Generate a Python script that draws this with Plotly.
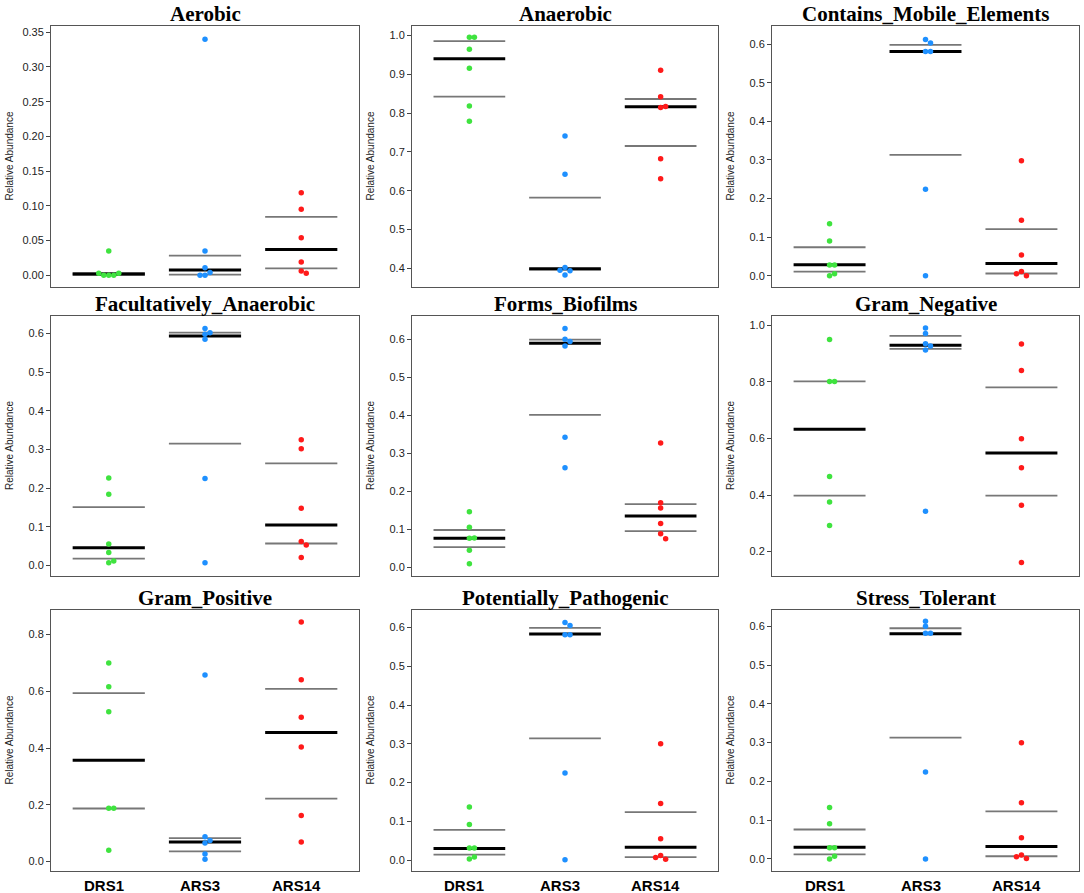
import plotly.graph_objects as go

groups = ["DRS1", "ARS3", "ARS14"]
colors = ["#3fe33f", "#1e90ff", "#ff1a1a"]

titles = ["Aerobic", "Anaerobic", "Contains_Mobile_Elements",
          "Facultatively_Anaerobic", "Forms_Biofilms", "Gram_Negative",
          "Gram_Positive", "Potentially_Pathogenic", "Stress_Tolerant"]

# sample values per panel, per group (DRS1, ARS3, ARS14)
aerobic = [[0.035, 0.0, 0.0, 0.0, 0.003, 0.003],
           [0.34, 0.035, 0.011, 0.0, 0.004, 0.0],
           [0.119, 0.095, 0.054, 0.019, 0.006, 0.003]]
anaerobic = [[0.995, 0.995, 0.964, 0.915, 0.818, 0.779],
             [0.741, 0.642, 0.402, 0.394, 0.395, 0.383],
             [0.910, 0.842, 0.814, 0.817, 0.682, 0.631]]
mobile = [[0.135, 0.090, 0.028, 0.028, 0.0, 0.005],
          [0.612, 0.603, 0.581, 0.581, 0.224, 0.0],
          [0.298, 0.144, 0.054, 0.011, 0.0, 0.005]]
facult = [[0.226, 0.184, 0.056, 0.034, 0.007, 0.012],
          [0.613, 0.602, 0.598, 0.585, 0.225, 0.007],
          [0.325, 0.302, 0.148, 0.062, 0.053, 0.021]]
biofilm = [[0.146, 0.105, 0.076, 0.077, 0.045, 0.009],
           [0.628, 0.600, 0.594, 0.582, 0.342, 0.262],
           [0.327, 0.170, 0.156, 0.115, 0.088, 0.075]]
gramneg = [[0.949, 0.801, 0.801, 0.465, 0.375, 0.292],
           [0.990, 0.970, 0.934, 0.926, 0.912, 0.343],
           [0.933, 0.840, 0.599, 0.496, 0.364, 0.162]]
grampos = [[0.699, 0.616, 0.528, 0.188, 0.188, 0.040],
           [0.657, 0.088, 0.074, 0.066, 0.027, 0.008],
           [0.844, 0.640, 0.508, 0.404, 0.162, 0.069]]
pathogen = [[0.137, 0.092, 0.031, 0.031, 0.003, 0.008],
            [0.613, 0.605, 0.581, 0.581, 0.225, 0.001],
            [0.300, 0.146, 0.055, 0.012, 0.002, 0.007]]
stress = [[0.133, 0.091, 0.029, 0.029, 0.0, 0.007],
          [0.613, 0.600, 0.582, 0.582, 0.224, 0.0],
          [0.300, 0.145, 0.055, 0.010, 0.001, 0.006]]
panels = [aerobic, anaerobic, mobile, facult, biofilm, gramneg, grampos, pathogen, stress]

# median, lower quartile, upper quartile per group
medians = [[0.002, 0.0077, 0.037], [0.940, 0.399, 0.816], [0.0285, 0.581, 0.032],
           [0.046, 0.593, 0.105], [0.076, 0.589, 0.135], [0.632, 0.929, 0.548],
           [0.357, 0.069, 0.455], [0.030, 0.583, 0.033], [0.030, 0.581, 0.032]]
q1 = [[0.0005, 0.001, 0.010], [0.842, 0.397, 0.715], [0.011, 0.313, 0.006],
      [0.018, 0.315, 0.057], [0.053, 0.401, 0.095], [0.398, 0.916, 0.398],
      [0.187, 0.036, 0.222], [0.014, 0.314, 0.008], [0.012, 0.313, 0.007]]
q3 = [[0.003, 0.0283, 0.084], [0.985, 0.582, 0.836], [0.074, 0.598, 0.121],
      [0.151, 0.602, 0.264], [0.098, 0.599, 0.166], [0.801, 0.962, 0.780],
      [0.593, 0.083, 0.608], [0.078, 0.599, 0.124], [0.076, 0.595, 0.123]]

yranges = [[-0.0169, 0.359], [0.352, 1.024], [-0.029, 0.647],
           [-0.027, 0.645], [-0.023, 0.661], [0.114, 1.032],
           [-0.033, 0.886], [-0.028, 0.645], [-0.031, 0.642]]
dticks = [0.05, 0.1, 0.1, 0.1, 0.1, 0.2, 0.2, 0.1, 0.1]
tfmt = [".2f"] + [".1f"] * 8

W, H = 1084, 893
col_px = [(51, 359), (412, 718), (772, 1079)]
row_px = [(26, 287), (316, 576), (610, 871)]
XR = [0.4, 3.6]
HALF = 0.375


def swarm(vals, yr, hpx, wpx):
    # simple beeswarm: shift colliding dots sideways
    step, dmin = 5.0, 5.0
    placed, offs = [], []
    for v in vals:
        py = (v - yr[0]) / (yr[1] - yr[0]) * hpx
        for k in [0, 1, -1, 2, -2, 3, -3, 4, -4]:
            px = k * step
            if all((px - a) ** 2 + (py - b) ** 2 >= dmin ** 2 for a, b in placed):
                break
        placed.append((px, py))
        offs.append(px * (XR[1] - XR[0]) / wpx)
    return offs


fig = go.Figure()
layout = {}
annotations = []

for i, data in enumerate(panels):
    r, c = divmod(i, 3)
    n = "" if i == 0 else str(i + 1)
    xa, ya = "x" + n, "y" + n
    x0, x1 = col_px[c]
    y0, y1 = row_px[r]
    hpx, wpx = y1 - y0, x1 - x0

    for g in range(3):
        xc = g + 1
        for vals, lw, lc in [(q1[i], 1.8, "#777777"), (q3[i], 1.8, "#777777"),
                             (medians[i], 3, "#000000")]:
            fig.add_trace(go.Scatter(
                x=[xc - HALF, xc + HALF], y=[vals[g], vals[g]], mode="lines",
                line=dict(color=lc, width=lw), xaxis=xa, yaxis=ya,
                showlegend=False, hoverinfo="skip"))
        offs = swarm(data[g], yranges[i], hpx, wpx)
        fig.add_trace(go.Scatter(
            x=[xc + o for o in offs], y=data[g], mode="markers",
            marker=dict(color=colors[g], size=5.5), xaxis=xa, yaxis=ya,
            showlegend=False, name=groups[g]))
        if r == 2:
            # group labels under the bottom row
            annotations.append(dict(
                text="<b>%s</b>" % groups[g], xref=xa, yref="paper",
                x=xc, y=1 - 885 / H, xanchor="center", yanchor="middle",
                xshift=-5, showarrow=False,
                font=dict(family="Liberation Sans, Arial", size=15, color="#000")))

    layout["xaxis" + n] = dict(
        domain=[x0 / W, x1 / W], anchor=ya, range=XR,
        showline=True, mirror=True, linecolor="#555555", linewidth=1,
        showgrid=False, zeroline=False, ticks="", showticklabels=False)
    layout["yaxis" + n] = dict(
        domain=[1 - y1 / H, 1 - y0 / H], anchor=xa, range=yranges[i],
        showline=True, mirror=True, linecolor="#555555", linewidth=1,
        showgrid=False, zeroline=False, ticks="outside", ticklen=4,
        tickcolor="#444", dtick=dticks[i], tick0=0, tickformat=tfmt[i],
        tickfont=dict(family="Liberation Sans, Arial", size=11, color="#222"))

    annotations.append(dict(
        text="<b>%s</b>" % titles[i], xref="paper", yref="paper",
        x=(x0 + x1) / 2 / W, y=1 - (y0 - 26) / H, xanchor="center",
        yanchor="top", showarrow=False,
        font=dict(family="Liberation Serif, Times New Roman", size=21, color="#000")))
    annotations.append(dict(
        text="Relative Abundance", xref="paper", yref="paper",
        x=(x0 - 42) / W, y=1 - (y0 + y1) / 2 / H, xanchor="center",
        yanchor="middle", textangle=-90, showarrow=False,
        font=dict(family="Liberation Sans, Arial", size=10, color="#222")))

fig.update_layout(**layout)
fig.update_layout(
    width=W, height=H, margin=dict(l=0, r=0, t=0, b=0),
    paper_bgcolor="white", plot_bgcolor="white",
    annotations=annotations, showlegend=False)

# drop the default page margin so the figure sits at the window corner
fig.write_html("out.html", config={"displayModeBar": False},
               post_script="document.body.style.margin='0';")
